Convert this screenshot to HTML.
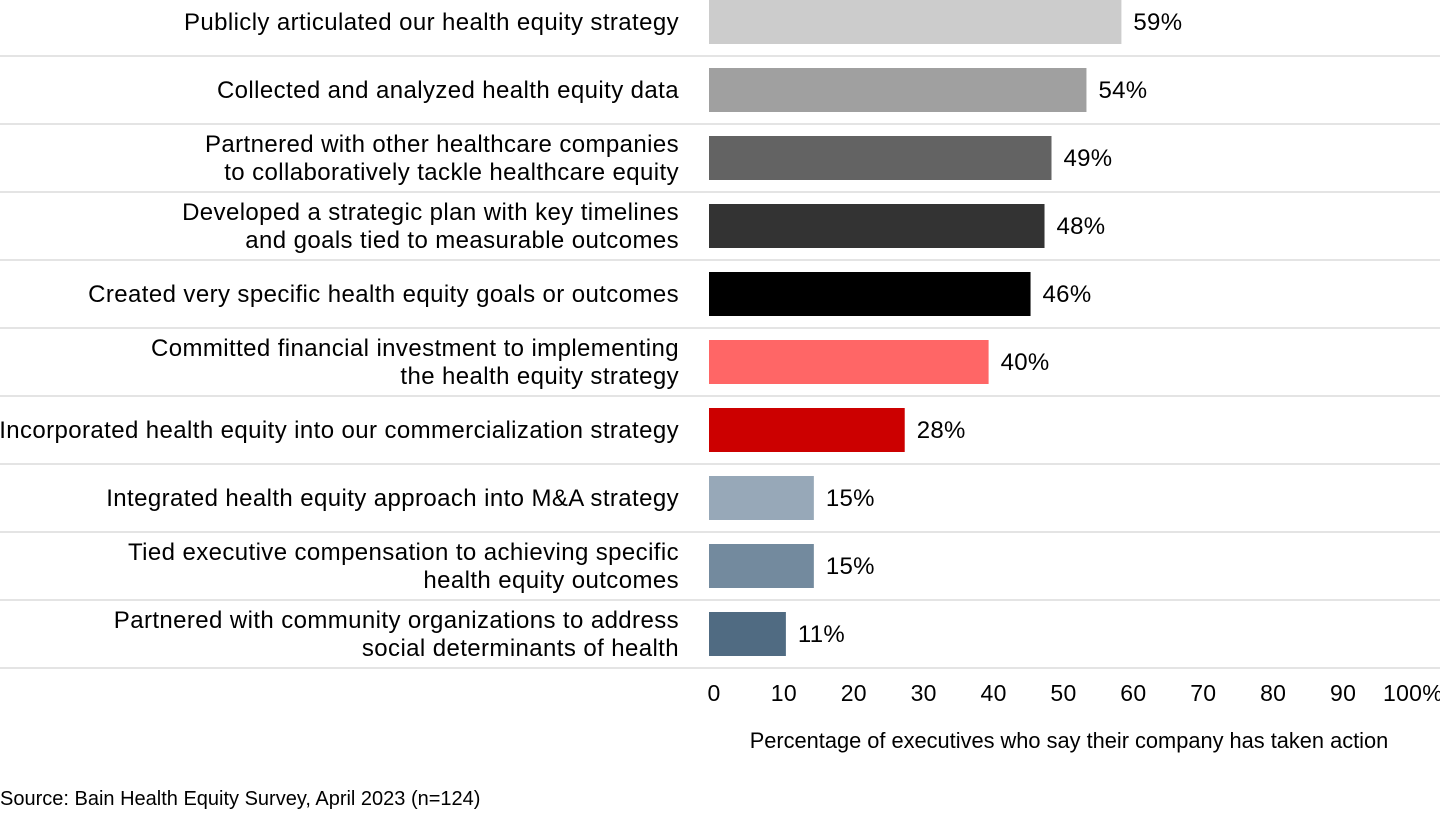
<!DOCTYPE html>
<html><head><meta charset="utf-8">
<style>
html,body{margin:0;padding:0;background:#fff;}
body{width:1440px;height:810px;overflow:hidden;font-family:"Liberation Sans",Arial,sans-serif;}
text{font-family:"Liberation Sans",Arial,sans-serif;fill:#000;}
</style></head>
<body>
<svg id="chart" width="1440" height="810" xmlns="http://www.w3.org/2000/svg"></svg>
<script>
const categories = [
  ["Publicly articulated our health equity strategy"],
  ["Collected and analyzed health equity data"],
  ["Partnered with other healthcare companies","to collaboratively tackle healthcare equity"],
  ["Developed a strategic plan with key timelines","and goals tied to measurable outcomes"],
  ["Created very specific health equity goals or outcomes"],
  ["Committed financial investment to implementing","the health equity strategy"],
  ["Incorporated health equity into our commercialization strategy"],
  ["Integrated health equity approach into M&A strategy"],
  ["Tied executive compensation to achieving specific","health equity outcomes"],
  ["Partnered with community organizations to address","social determinants of health"]
];
const values = [59,54,49,48,46,40,28,15,15,11];
const colors = ["#cccccc","#a0a0a0","#636363","#333333","#000000","#ff6666","#cc0000","#97a8b8","#738a9e","#506b82"];
const ticks = [0,10,20,30,40,50,60,70,80,90,100];
const tickLabels = ["0","10","20","30","40","50","60","70","80","90","100%"];

const svg = document.getElementById('chart');
const NS = "http://www.w3.org/2000/svg";
const x0 = 709, pxPer = 6.99;
const xScale = v => x0 + v * pxPer;
const rowH = 68, rowTop = -12;
const yCenter = i => rowTop + rowH * i + rowH / 2;
function el(tag, attrs){ const e=document.createElementNS(NS,tag); for(const k in attrs) e.setAttribute(k,attrs[k]); svg.appendChild(e); return e; }

categories.forEach((lines,i)=>{
  const cy = yCenter(i);
  const sep = el('line',{x1:0,x2:1440,y1:rowTop+rowH*(i+1),y2:rowTop+rowH*(i+1),stroke:'#dcdcdc','stroke-width':1.5});
  
  
  const bar = el('rect',{x:xScale(0),y:cy-22,width:xScale(values[i])-xScale(0),height:44,fill:colors[i]});
  
  
  const vl = el('text',{x:xScale(values[i])+12,y:cy+8,'font-size':24,'letter-spacing':0.3});
  vl.textContent = values[i]+'%';
  
  
  const t = el('text',{x:679,y:0,'font-size':24,'letter-spacing':0.4,'text-anchor':'end'});
  
  
  const n = lines.length;
  lines.forEach((ln,j)=>{
    const ts=document.createElementNS(NS,'tspan');
    ts.setAttribute('x',679);
    ts.setAttribute('y',cy+8+(j-(n-1)/2)*28);
    ts.textContent=ln; t.appendChild(ts);
  });
});
ticks.forEach((v,i)=>{
  const t = el('text',{x:xScale(v)+5,y:701,'font-size':23,'letter-spacing':0.3,'text-anchor':'middle'});
  t.textContent = tickLabels[i];
  
  
});
const at = el('text',{x:1069,y:748,'font-size':21.8,'text-anchor':'middle'});
at.textContent='Percentage of executives who say their company has taken action';


const src = el('text',{x:0,y:805,'font-size':20});
src.textContent='Source: Bain Health Equity Survey, April 2023 (n=124)';


</script>
</body></html>
